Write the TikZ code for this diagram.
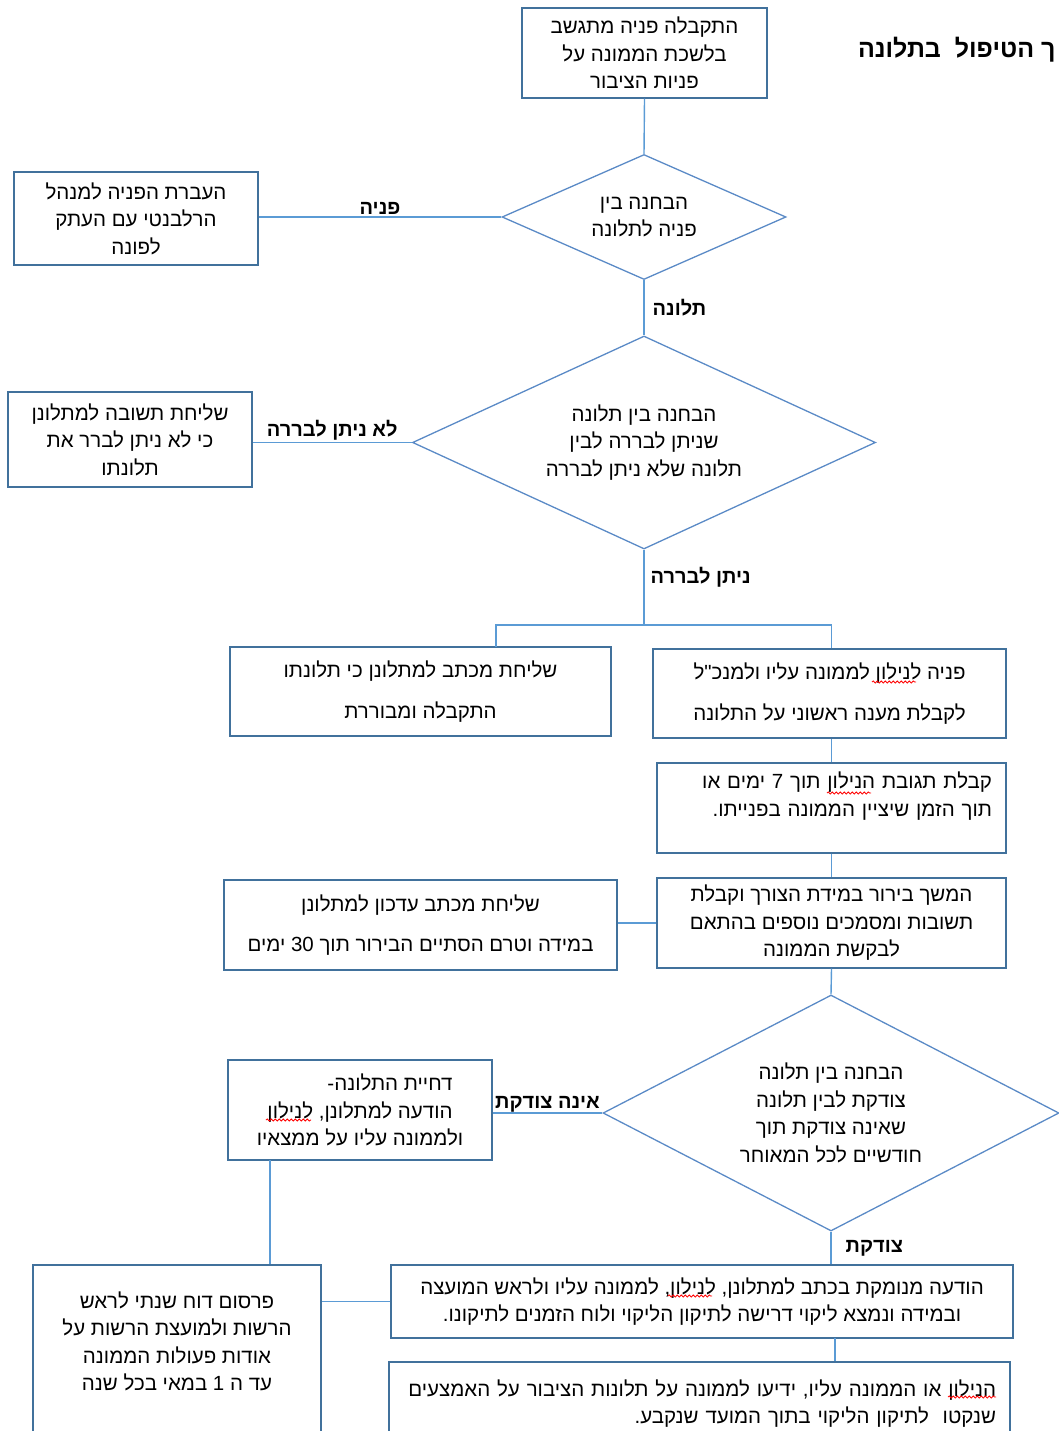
\documentclass[tikz,border=0pt]{standalone}
\usepackage{fontspec}
\setmainfont{Liberation Sans}
\newfontfamily\hebfont[Script=Hebrew]{Liberation Sans}
\TeXXeTstate=1
\usepackage{xcolor}
\usepackage{tikz}
\usetikzlibrary{shapes.geometric,decorations.pathmorphing}

\definecolor{boxblue}{HTML}{41719C}
\definecolor{linkblue}{HTML}{5B9BD5}
\definecolor{diablue}{HTML}{5A8AC6}
\newcommand{\rl}[1]{\beginR #1\endR}

\begin{document}
\begin{tikzpicture}[x=1pt, y=-1pt,
    every node/.style={font=\hebfont\fontsize{20.5}{27.5}\selectfont, text=black},
    box/.style={draw=boxblue, line width=1.3pt, inner sep=0pt, align=center},
    decision/.style={diamond, draw=diablue, line width=1.3pt, inner sep=0pt, align=center},
    link/.style={draw=linkblue, line width=1.4pt},
    lbl/.style={font=\hebfont\bfseries\fontsize{20}{24}\selectfont, inner sep=2pt},
    title/.style={font=\hebfont\bfseries\fontsize{25}{30}\selectfont},
    spell/.style={draw=red, line width=0.8pt, decorate,
        decoration={snake, amplitude=1.1pt, segment length=4pt}}]

\useasboundingbox (0,0) rectangle (1059,1431);

% Title (cut at the page edge)
\node[title, anchor=east] (head) at (1059,50) {\rl{ך הטיפול~ בתלונה}};

% Top of the chart
\node[box, minimum width=245, minimum height=90] (recv) at (644.5,53)
    {\rl{התקבלה פניה מתגשב}\\ \rl{בלשכת הממונה על}\\ \rl{פניות הציבור}};
\node[decision, aspect=2.27, minimum width=284, minimum height=125] (kind) at (644,217)
    {\rl{הבחנה בין}\\ \rl{פניה לתלונה}};
\node[box, minimum width=244, minimum height=93] (fwd) at (136,218.5)
    {\rl{העברת הפניה למנהל}\\ \rl{הרלבנטי עם העתק}\\ \rl{לפונה}};

% Can it be checked
\node[decision, aspect=2.17, minimum width=463, minimum height=213] (check) at (644,442.5)
    {\rl{הבחנה בין תלונה}\\ \rl{שניתן לבררה לבין}\\ \rl{תלונה שלא ניתן לבררה}};
\node[box, minimum width=244, minimum height=95] (noway) at (130,439.5)
    {\rl{שליחת תשובה למתלונן}\\ \rl{כי לא ניתן לברר את}\\ \rl{תלונתו}};

% Two boxes after the split
\node[box, minimum width=381, minimum height=89] (ack) at (420.5,691.5)
    {\rl{שליחת מכתב למתלונן כי תלונתו}\\[14pt] \rl{התקבלה ומבוררת}};
\node[box, minimum width=353, minimum height=89] (ask) at (829.5,693.5)
    {\rl{פניה לנילון לממונה עליו ולמנכ"ל}\\[13pt] \rl{לקבלת מענה ראשוני על התלונה}};

% Reply and follow-up
\node[box, minimum width=349, minimum height=90, text width=321, align=right] (reply) at (831.5,808)
    {\rl{קבלת תגובת הנילון תוך 7 ימים או}\\ \rl{תוך הזמן שיציין הממונה בפנייתו.}\\ \mbox{}};
\node[box, minimum width=349, minimum height=90] (more) at (831.5,923)
    {\rl{המשך בירור במידת הצורך וקבלת}\\ \rl{תשובות ומסמכים נוספים בהתאם}\\ \rl{לבקשת הממונה}};
\node[box, minimum width=393, minimum height=90] (update) at (420.5,925)
    {\rl{שליחת מכתב עדכון למתלונן}\\[13pt] \rl{במידה וטרם הסתיים הבירור תוך \beginL 30\endL{} ימים}};

% Justified or not
\node[decision, aspect=1.93, minimum width=456, minimum height=236] (just) at (831,1113)
    {\rl{הבחנה בין תלונה}\\ \rl{צודקת לבין תלונה}\\ \rl{שאינה צודקת תוך}\\ \rl{חודשיים לכל המאוחר}};
\node[box, minimum width=264, minimum height=100] (reject) at (360,1110)
    {\hspace*{60pt}\rl{דחיית התלונה-}\\ \rl{הודעה למתלונן, לנילון}\\ \rl{ולממונה עליו על ממצאיו}};

% Bottom row (boxes run past the page)
\node[box, minimum width=288, minimum height=180] (report) at (177,1355)
    {\rl{פרסום דוח שנתי לראש}\\ \rl{הרשות ולמועצת הרשות על}\\ \rl{אודות פעולות הממונה}\\ \rl{עד ה 1 במאי בכל שנה}\\ \mbox{}};
\node[box, minimum width=622, minimum height=73] (notice) at (702,1301.5)
    {\rl{הודעה מנומקת בכתב למתלונן, לנילון, לממונה עליו ולראש המועצה}\\ \rl{ובמידה ונמצא ליקוי דרישה לתיקון הליקוי ולוח הזמנים לתיקונו.}};
\node[box, minimum width=621, minimum height=83, text width=593, align=right] (fix) at (699.5,1403.5)
    {\rl{הנילון או הממונה עליו, ידיעו לממונה על תלונות הציבור על האמצעים}\\ \rl{שנקטו~ לתיקון הליקוי בתוך המועד שנקבע.}};

% Free ends
\coordinate (split) at (644,625);
\coordinate (ackin) at (496,647);
\coordinate (rejout) at (270,1160);
\coordinate (notout) at (835,1338);

% Connectors
\draw[link] (recv.south) -- (kind.north);
\draw[link] (kind.west) -- (kind.west -| fwd.east) node[midway, above, lbl] {\rl{פניה}};
\draw[link] (kind.south) -- (check.north) node[midway, right, lbl, xshift=6pt] {\rl{תלונה}};
\draw[link] (check.west) -- (check.west -| noway.east) node[midway, above, lbl] {\rl{לא ניתן לבררה}};
\draw[link] (check.south) -- (split) node[pos=0.37, right, lbl, xshift=4pt] {\rl{ניתן לבררה}};
\draw[link] (ackin) |- (split) -| (reply.north |- ask.north);
\draw[link] (reply.north |- ask.south) -- (reply.north);
\draw[link] (reply.south) -- (more.north);
\draw[link] (more.west) -- (more.west -| update.east);
\draw[link] (more.south) -- (just.north);
\draw[link] (just.west) -- (just.west -| reject.east) node[midway, above, lbl, inner sep=0pt] {\rl{אינה צודקת}};
\draw[link] (rejout) -- (rejout |- report.north);
\draw[link] (just.south) -- (notice.north -| just.south) node[midway, right, lbl, xshift=12pt] {\rl{צודקת}};
\draw[link] (notice.west) -- (notice.west -| report.east);
\draw[link] (notout) -- (notout |- fix.north);

% Spell-check marks under the word nilon
\draw[spell] (872,682) -- (916,682);
\draw[spell] (827,793) -- (871,793);
\draw[spell] (266,1120) -- (311,1120);
\draw[spell] (668,1296) -- (712,1296);
\draw[spell] (948,1397) -- (996,1397);

\end{tikzpicture}
\end{document}
